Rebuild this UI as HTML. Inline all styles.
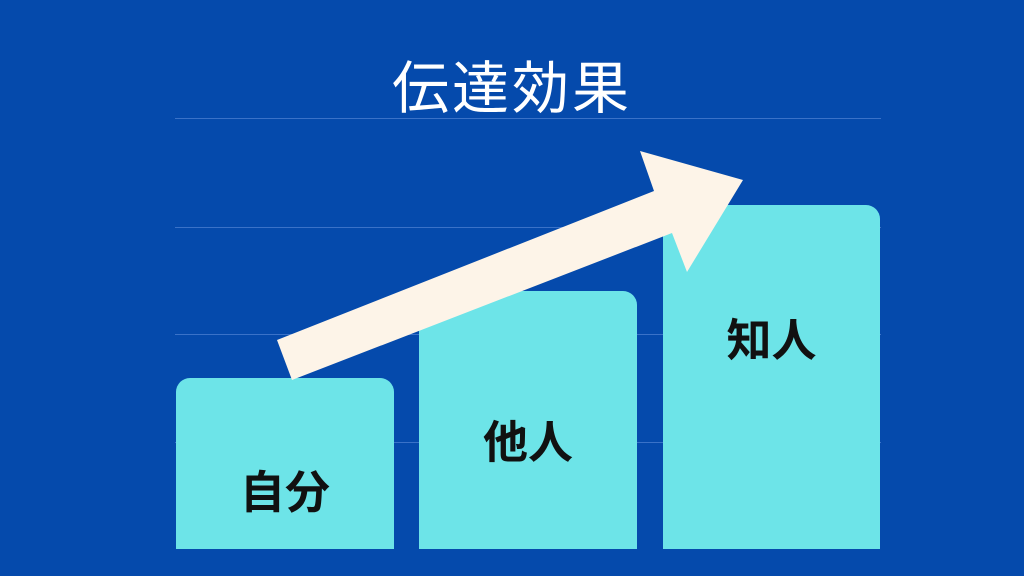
<!DOCTYPE html>
<html><head><meta charset="utf-8"><style>
body{margin:0;width:1024px;height:576px;background:#054aac;overflow:hidden;position:relative;font-family:"Liberation Sans","Noto Sans CJK JP",sans-serif}
.g{position:absolute;left:175px;width:706px;height:1px;background:#3a72c8}
.b{position:absolute;background:#6de4e8;border-radius:14px 14px 0 0;bottom:27px;display:flex;justify-content:center}
.b span{position:absolute;font-weight:bold;font-size:45px;color:#111;line-height:1}
.t{position:absolute;top:58px;left:0;width:1024px;text-align:center;color:#fff;font-size:57px;font-weight:normal;letter-spacing:3px;line-height:1.1}
</style></head><body>
<div class="t">伝達効果</div>
<div class="g" style="top:118px"></div>
<div class="g" style="top:227px"></div>
<div class="g" style="top:334px"></div>
<div class="g" style="top:442px"></div>
<div class="b" style="left:176px;width:218px;top:378px"><span style="top:92px">自分</span></div>
<div class="b" style="left:419px;width:218px;top:291px"><span style="top:129px">他人</span></div>
<div class="b" style="left:663px;width:217px;top:205px"><span style="top:113px">知人</span></div>
<svg style="position:absolute;left:0;top:0" width="1024" height="576"><polygon points="277,340 654,191 640,151 743,180 687,272 672,233 292,380" fill="#fdf4e8"/></svg>
</body></html>
